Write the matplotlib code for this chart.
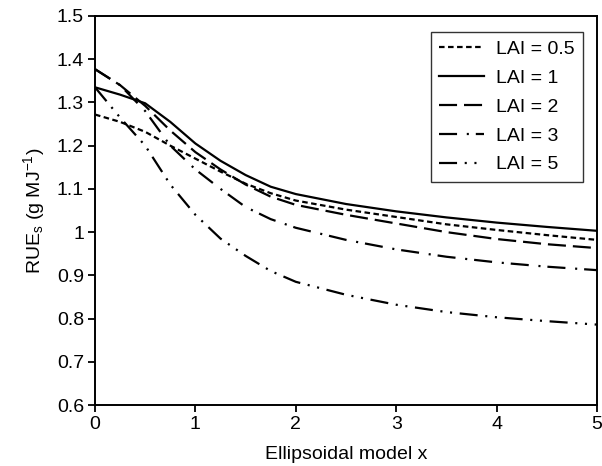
import matplotlib
matplotlib.use("Agg")
import matplotlib.pyplot as plt

plt.rcParams['font.family'] = ['Liberation Sans', 'DejaVu Sans']
plt.rcParams['mathtext.default'] = 'regular'
plt.rcParams['lines.scale_dashes'] = False

x = [0, 0.25, 0.5, 0.75, 1, 1.25, 1.5, 1.75, 2, 2.5, 3, 3.5, 4, 4.5, 5]
lai_05 = [1.272, 1.255, 1.232, 1.200, 1.170, 1.140, 1.112, 1.090, 1.073, 1.052, 1.035, 1.018, 1.005, 0.993, 0.982]
lai_1 = [1.335, 1.318, 1.298, 1.255, 1.205, 1.165, 1.132, 1.105, 1.088, 1.065, 1.048, 1.034, 1.022, 1.012, 1.003]
lai_2 = [1.377, 1.340, 1.292, 1.235, 1.185, 1.145, 1.110, 1.082, 1.063, 1.040, 1.020, 1.000, 0.984, 0.972, 0.963]
lai_3 = [1.377, 1.340, 1.280, 1.200, 1.145, 1.100, 1.058, 1.030, 1.010, 0.982, 0.960, 0.943, 0.930, 0.920, 0.912]
lai_5 = [1.335, 1.265, 1.200, 1.110, 1.040, 0.985, 0.945, 0.910, 0.885, 0.855, 0.832, 0.815, 0.803, 0.794, 0.786]

labels = ['LAI = 0.5', 'LAI = 1', 'LAI = 2', 'LAI = 3', 'LAI = 5']
series = [lai_05, lai_1, lai_2, lai_3, lai_5]
dash_styles = [
    (0, (4, 2.5)),
    '-',
    (0, (13, 5)),
    (0, (13, 7, 1.5, 5)),
    (0, (13, 5.5, 1.5, 5.5, 1.5, 5.5)),
]

fig = plt.figure(figsize=(6.02, 4.66), dpi=100)
ax = fig.add_axes([0.1578, 0.1309, 0.8339, 0.8348])

for y, lab, ls in zip(series, labels, dash_styles):
    ax.plot(x, y, color='black', linestyle=ls, linewidth=1.6, label=lab)

ax.set_xlim(0, 5)
ax.set_ylim(0.6, 1.5)
ax.set_xticks([0, 1, 2, 3, 4, 5])
ax.set_yticks([0.6, 0.7, 0.8, 0.9, 1.0, 1.1, 1.2, 1.3, 1.4, 1.5])
ax.set_yticklabels(['0.6', '0.7', '0.8', '0.9', '1', '1.1', '1.2', '1.3', '1.4', '1.5'])
ax.tick_params(axis='both', which='both', direction='out', length=5, width=1.3,
               labelsize=14, top=False, right=False, pad=3)
for sp in ax.spines.values():
    sp.set_linewidth(1.4)

ax.set_xlabel('Ellipsoidal model x', fontsize=14, labelpad=9)
ax.set_ylabel('RUE$_{s}$ (g MJ$^{-1}$)', fontsize=14, labelpad=7)

leg = ax.legend(loc='upper right', bbox_to_anchor=(0.9725, 0.96), frameon=True,
                fancybox=False, fontsize=14, handlelength=2.3, labelspacing=0.58,
                borderpad=0.45, handletextpad=0.6, borderaxespad=0)
leg.get_frame().set_edgecolor('black')
leg.get_frame().set_linewidth(1.0)

fig.savefig('out.png', dpi=100)
